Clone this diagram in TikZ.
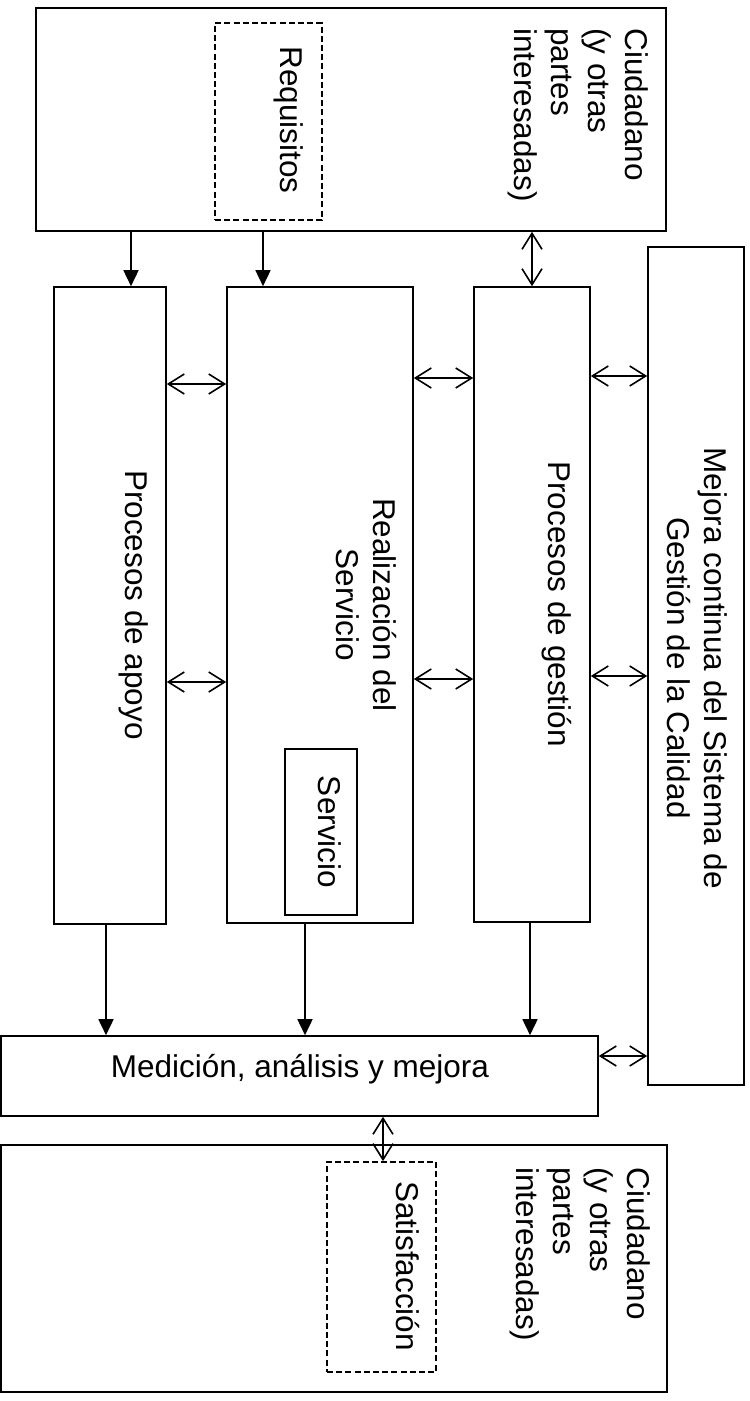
\documentclass[tikz,border=0pt]{standalone}
\usepackage{fontspec}
\setmainfont{Liberation Sans}
\usetikzlibrary{arrows.meta,fit}
\begin{document}
\begin{tikzpicture}[x=0.5pt,y=-0.5pt,
  box/.style={draw, line width=0.8pt, inner sep=0pt},
  dbox/.style={draw, line width=0.9pt, inner sep=0pt, dash pattern=on 3pt off 1.6pt},
  lbl/.style={font=\fontsize{15.75}{18.5}\selectfont, inner sep=0pt},
  vlbl/.style={lbl, rotate=-90, anchor=base},
  fwd/.style={line width=0.8pt, -{Triangle[length=8pt,width=7.5pt]}},
  dbl/.style={line width=0.8pt, {Straight Barb[length=8pt,width=10pt]}-{Straight Barb[length=8pt,width=10pt]}},
]
\useasboundingbox (0,0) rectangle (749,1401);
% boxes
\node[box, fit={(36,8) (666,231)}] (cit1) {};
\node[dbox, fit={(215,23) (322,220)}] (req) {};
\node[box, fit={(54,287) (166,924)}] (apoyo) {};
\node[box, fit={(227,287) (413,923)}] (real) {};
\node[box, fit={(285,749) (357,915)}] (serv) {};
\node[box, fit={(474,287) (590,922)}] (gest) {};
\node[box, fit={(648,247) (744,1085)}] (mejora) {};
\node[box, fit={(1,1036) (598,1116)}] (med) {};
\node[box, fit={(1,1145) (667,1392)}] (cit2) {};
\node[dbox, fit={(327,1162) (436,1372)}] (sat) {};
% texts (multi-line nodes: base anchor is the last line's baseline)
\node[vlbl, anchor=base west, align=left] (cit1T) at (514,28) {Ciudadano\\(y otras\\partes\\interesadas)};
\node[vlbl] (reqT) at (280,120) {Requisitos};
\node[vlbl] (apoyoT) at (125,605) {Procesos de apoyo};
\node[vlbl, align=center] (realT) at (336,605) {Realización del\\Servicio};
\node[vlbl] (servT) at (318,832) {Servicio};
\node[vlbl] (gestT) at (548,604) {Procesos de gestión};
\node[vlbl, align=center] (mejoraT) at (667,668) {Mejora continua del Sistema de\\Gestión de la Calidad};
\node[lbl, anchor=base] (medT) at (300,1077) {Medición, análisis y mejora};
\node[vlbl, anchor=base west, align=left] (cit2T) at (516,1167) {Ciudadano\\(y otras\\partes\\interesadas)};
\node[vlbl] (satT) at (396,1266) {Satisfacción};
% vertical connectors
\draw[fwd] (cit1.south -| 131,0) -- (apoyo.north -| 131,0);
\draw[fwd] (cit1.south -| 263,0) -- (real.north -| 263,0);
\draw[dbl] (cit1.south -| 532,0) -- (gest.north -| 532,0);
\draw[fwd] (apoyo.south -| 106,0) -- (med.north -| 106,0);
\draw[fwd] (real.south -| 305,0) -- (med.north -| 305,0);
\draw[fwd] (gest.south -| 530,0) -- (med.north -| 530,0);
\draw[dbl] (med.south -| 383,0) -- (sat.north -| 383,0);
% horizontal connectors
\draw[dbl] (apoyo.east |- 0,384) -- (real.west |- 0,384);
\draw[dbl] (real.east |- 0,378) -- (gest.west |- 0,378);
\draw[dbl] (gest.east |- 0,376) -- (mejora.west |- 0,376);
\draw[dbl] (apoyo.east |- 0,682) -- (real.west |- 0,682);
\draw[dbl] (real.east |- 0,679) -- (gest.west |- 0,679);
\draw[dbl] (gest.east |- 0,676) -- (mejora.west |- 0,676);
\draw[dbl] (med.east |- 0,1056) -- (mejora.west |- 0,1056);
\end{tikzpicture}
\end{document}
